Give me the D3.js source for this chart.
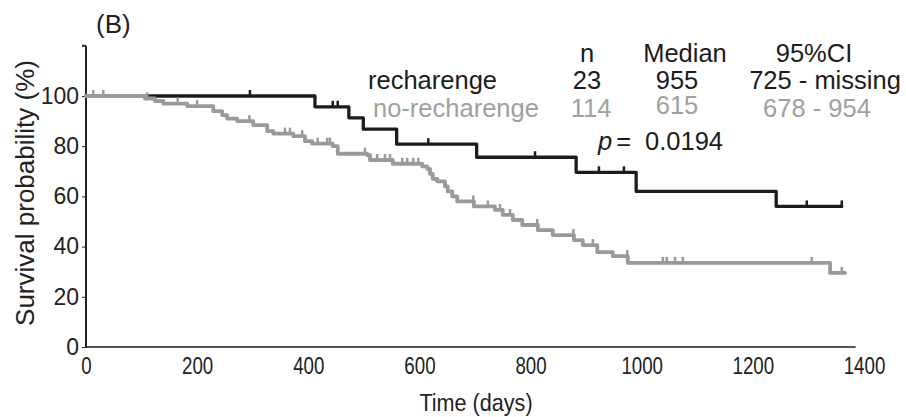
<!DOCTYPE html>
<html><head><meta charset="utf-8">
<script src="https://cdn.jsdelivr.net/npm/d3@7"></script>
<style>body{margin:0;background:#fff}svg{display:block}text{font-family:"Liberation Sans",Arial,sans-serif}</style>
</head><body>
<svg id="c" width="906" height="417"></svg>
<script>
// ---- data ----
const xTicks = [0,200,400,600,800,1000,1200,1400];
const yTicks = [0,20,40,60,80,100];
// recharenge (black) step times (days) and survival after step (%)
const rechTimes = [0,412,473,499,559,703,882,990,1242];
const rechSurv  = [100,95.7,91.3,86.8,80.8,75.6,69.6,62,56];
const rechCensor = [295,444,453,616,808,923,968,1297,1360];
const rechEnd = 1360;
// no-recharenge (grey)
const noTimes = [0,106,124,139,182,229,245,254,272,301,326,337,373,394,407,444,453,506,511,552,605,614,619,624,632,646,651,659,668,698,736,750,768,785,813,840,878,894,920,948,975,1339];
const noSurv  = [100,99,98,97,96,94,92.4,91,90,88.4,86,85,84,82,81,80,77,76.5,74.5,73,72,71,69,67,66,64,62,60,58,56,54.6,52.6,50.6,48.6,46.6,44.6,42.6,40.6,37.8,36.2,33.5,29.5];
const noCensor = [13,31,110,165,200,294,358,367,389,417,434,439,502,524,538,547,569,578,589,598,697,723,745,763,812,877,912,974,1038,1045,1060,1074,1306,1360];
const noEnd = 1366;
// legend table
const legHeader = ["n","Median","95%CI"];
const legNames = ["recharenge","no-recharenge"];
const legN = ["23","114"];
const legMedian = ["955","615"];
const legCI = ["725 - missing","678 - 954"];
const pValue = "0.0194";

// ---- drawing ----
const svg = d3.select("#c");
const x = d3.scaleLinear().domain([0,1400]).range([86,864]);
const y = d3.scaleLinear().domain([0,100]).range([347,96]);
const BLACK = "#1c1c1c", GREY = "#9a9a9a", INK = "#222";

// axes
svg.append("line").attr("x1",x(0)).attr("x2",x(1385)).attr("y1",y(0)).attr("y2",y(0))
  .attr("stroke","#555").attr("stroke-width",2);
svg.append("line").attr("x1",x(0)).attr("x2",x(0)).attr("y1",y(0)+1).attr("y2",y(120))
  .attr("stroke",INK).attr("stroke-width",2);
const yAxis = d3.axisLeft(y).tickValues(yTicks).tickSize(4).tickPadding(3);
const gy = svg.append("g").attr("transform",`translate(${x(0)},0)`).call(yAxis);
gy.select(".domain").remove();
gy.selectAll("line").attr("stroke",INK);
gy.selectAll("text").attr("font-size",23).attr("fill",INK).attr("font-family","Liberation Sans, Arial");
svg.append("line").attr("x1",x(0)-4).attr("x2",x(0)).attr("y1",y(120)).attr("y2",y(120)).attr("stroke",INK).attr("stroke-width",2);

const xAxis = d3.axisBottom(x).tickValues(xTicks).tickFormat(d3.format("d")).tickSize(0).tickPadding(0);
const gx = svg.append("g").attr("transform",`translate(0,${y(0)})`).call(xAxis);
gx.select(".domain").remove();
gx.selectAll("text").attr("font-size",24).attr("fill",INK).attr("font-family","Liberation Sans, Arial")
  .attr("dy",null).attr("y",0).attr("transform","translate(0,27) scale(0.78,1)");

svg.append("text").attr("transform","translate(476,411) scale(0.9,1)").attr("text-anchor","middle").attr("font-size",24).attr("fill",INK).text("Time (days)");
svg.append("text").attr("transform","translate(34,193) rotate(-90)").attr("text-anchor","middle").attr("font-size",26).attr("fill",INK).text("Survival probability (%)");
svg.append("text").attr("x",96).attr("y",33).attr("font-size",26).attr("fill",INK).text("(B)");

function stepData(times, surv, end){
  const pts = times.map((t,i)=>[t,surv[i]]);
  pts.push([end, surv[surv.length-1]]);
  return pts;
}
function survAt(times, surv, t){
  let s = surv[0];
  for(let i=0;i<times.length;i++){ if(times[i]<=t) s = surv[i]; }
  return s;
}
const line = d3.line().x(d=>x(d[0])).y(d=>y(d[1])).curve(d3.curveStepAfter);

function drawCurve(times, surv, end, censor, color, w){
  svg.append("path").datum(stepData(times,surv,end)).attr("d",line)
    .attr("fill","none").attr("stroke",color).attr("stroke-width",w).attr("stroke-linejoin","round").attr("stroke-linecap","round");
  svg.append("g").selectAll("line").data(censor).join("line")
    .attr("x1",d=>x(d)).attr("x2",d=>x(d))
    .attr("y1",d=>y(survAt(times,surv,d)))
    .attr("y2",d=>y(survAt(times,surv,d))-6)
    .attr("stroke",color).attr("stroke-width",2.5);
}
drawCurve(rechTimes, rechSurv, rechEnd, rechCensor, BLACK, 3.3);
drawCurve(noTimes, noSurv, noEnd, noCensor, GREY, 3.8);

// legend table
const LG = "#a0a0a0";
const FS = 25.5;
const hdrX = [587,685,814];
legHeader.forEach((h,i)=>svg.append("text").attr("x",hdrX[i]).attr("y",62).attr("text-anchor","middle").attr("font-size",FS).attr("fill","#1c1c1c").text(h));
const rowY = [89,117];
const rowC = ["#1c1c1c", LG];
const nameX = [368,373];
legNames.forEach((nm,i)=>{
  svg.append("text").attr("x",nameX[i]).attr("y",rowY[i]).attr("font-size",FS).attr("fill",rowC[i]).text(nm);
  svg.append("text").attr("x",i?591:587).attr("y",rowY[i]).attr("text-anchor","middle").attr("font-size",FS).attr("fill",rowC[i]).text(legN[i]);
  svg.append("text").attr("x",677).attr("y",i?114:89).attr("text-anchor","middle").attr("font-size",FS).attr("fill",rowC[i]).text(legMedian[i]);
  svg.append("text").attr("x",i?817:825).attr("y",rowY[i]).attr("text-anchor","middle").attr("font-size",FS).attr("fill",rowC[i]).text(legCI[i]);
});
const pt = svg.append("text").attr("x",598).attr("y",150).attr("font-size",FS).attr("fill","#1c1c1c");
pt.append("tspan").attr("font-style","italic").text("p");
pt.append("tspan").attr("dx",4).text("=");
pt.append("tspan").attr("x",645).text(pValue);
</script>
</body></html>
